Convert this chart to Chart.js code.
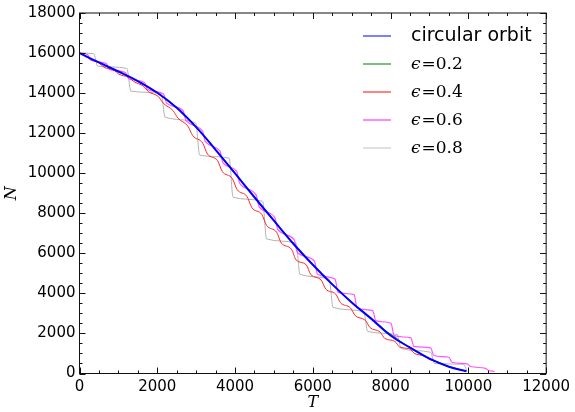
<!DOCTYPE html>
<html>
    <head>
        <meta charset="utf-8">
        <script src="https://cdn.jsdelivr.net/npm/chart.js"></script>
        <style>
            body { margin: 0; background: #ffffff; }
            #wrap { width: 575px; height: 412px; }
        </style>
    </head>
    <body>
        <div id="wrap"><canvas id="chart" width="575" height="412"></canvas></div>
        <script>
            // axis ticks
            const xTicks = [0, 2000, 4000, 6000, 8000, 10000, 12000];
            const yTicks = [0, 2000, 4000, 6000, 8000, 10000, 12000, 14000, 16000, 18000];
            const minorStep = 500;

            // series names
            const seriesNames = ['circular orbit', 'ϵ=0.2', 'ϵ=0.4', 'ϵ=0.6', 'ϵ=0.8'];

            // circular orbit
            const circT = [0, 500, 1000, 1500, 2000, 2500, 3000, 3500, 4000, 4500, 5000, 5500, 6000, 6500, 7000, 7500, 8000, 8500, 9000, 9500, 9950];
            const circN = [16000, 15530, 15080, 14600, 14020, 13270, 12300, 11170, 9990, 8800, 7630, 6480, 5430, 4450, 3550, 2740, 1900, 1290, 740, 340, 110];

            // eps = 0.2
            const e02T = [0, 150, 250, 550, 650, 950, 1050, 1350, 1450, 1750, 1850, 2150, 2250, 2550, 2650, 2950, 3050, 3350, 3450, 3750, 3850,
                4150, 4250, 4550, 4650, 4950, 5050, 5350, 5450, 5750, 5850, 6150, 6250, 6550, 6650, 6950, 7050, 7350, 7450, 7750, 7850,
                8150, 8250, 8550, 8650, 8950, 9050, 9350, 9450, 9750, 9850, 9950];
            const e02N = [16000, 15867, 15757, 15495, 15385, 15135, 15025, 14754, 14638, 14322, 14182, 13810, 13630, 13191, 12961, 12425, 12175, 11531, 11261, 10602, 10322,
                9657, 9371, 8706, 8426, 7769, 7491, 6848, 6572, 5976, 5724, 5156, 4920, 4378, 4162, 3652, 3448, 2999, 2805, 2361, 2171,
                1766, 1606, 1246, 1114, 797, 683, 468, 372, 217, 157, 110];

            // eps = 0.4
            const e04T = [0, 130, 250, 510, 630, 890, 1010, 1270, 1390, 1650, 1770, 2030, 2150, 2410, 2530, 2790, 2910, 3170, 3290, 3550, 3670,
                3930, 4050, 4310, 4430, 4690, 4810, 5070, 5190, 5450, 5570, 5830, 5950, 6210, 6330, 6590, 6710, 6970, 7090, 7350, 7470,
                7730, 7850, 8110, 8230, 8490, 8610, 8870, 8990, 9250, 9370, 9630, 9750, 9930];
            const e04N = [16000, 15880, 15720, 15490, 15290, 15145, 14945, 14783, 14583, 14336, 14076, 13825, 13505, 13115, 12755, 12341, 11881, 11500, 10960, 10630, 10090,
                9734, 9194, 8829, 8289, 7935, 7395, 7051, 6511, 6209, 5669, 5431, 4931, 4681, 4221, 3960, 3540, 3271, 2891, 2656, 2296,
                2072, 1752, 1606, 1326, 1225, 1005, 867, 707, 552, 432, 283, 203, 110];

            // eps = 0.6
            const e06T = [0, 210, 290, 690, 770, 1180, 1260, 1670, 1750, 2160, 2240, 2660, 2740, 3160, 3240, 3610, 3690, 4040, 4120, 4540, 4620,
                5020, 5100, 5520, 5600, 6040, 6120, 6570, 6650, 7060, 7140, 7540, 7620, 8010, 8090, 8520, 8600, 9030, 9110, 9500, 9580,
                9970, 10050, 10440, 10520, 10670];
            const e06N = [16000, 15920, 15640, 15480, 15180, 15030, 14720, 14530, 14180, 13950, 13500, 13130, 12620, 12120, 11560, 11120, 10520, 10100, 9500, 8920, 8320,
                7800, 7180, 6680, 6050, 5620, 4960, 4720, 4050, 3940, 3270, 3140, 2640, 2510, 1890, 1780, 1350, 1280, 900, 810, 560,
                480, 350, 260, 150, 110];

            // eps = 0.8
            const e08T = [0, 365, 465, 1220, 1320, 2100, 2200, 2990, 3090, 3850, 3950, 4710, 4810, 5570, 5670, 6420, 6520, 7310, 7410, 8170, 8270, 9030, 9130, 9880, 9960];
            const e08N = [16000, 15970, 15350, 15230, 14100, 13980, 12800, 12500, 10900, 10750, 8800, 8600, 6720, 6520, 4950, 4720, 3300, 3100, 2100, 1950, 1250, 1060, 500, 460, 130];

            function pts(ts, ns) {
                return ts.map((t, i) => ({ x: t, y: ns[i] }));
            }

            const lineColors = ['#0000ff', '#2e8b2e', '#ff2a2a', '#ff55ff', '#b4b4b4'];
            const legendColors = ['#7f7fff', '#3c9a3c', '#ff4040', '#ff88ff', '#cfcfcf'];
            const lineWidths = [2, 1, 1, 1.2, 1];

            const datasets = [
                { label: seriesNames[0], data: pts(circT, circN), tension: 0.4 },
                { label: seriesNames[1], data: pts(e02T, e02N), cubicInterpolationMode: 'monotone' },
                { label: seriesNames[2], data: pts(e04T, e04N), cubicInterpolationMode: 'monotone' },
                { label: seriesNames[3], data: pts(e06T, e06N), cubicInterpolationMode: 'monotone' },
                { label: seriesNames[4], data: pts(e08T, e08N), cubicInterpolationMode: 'monotone' }
            ].map((d, i) => Object.assign(d, {
                borderColor: lineColors[i],
                borderWidth: lineWidths[i],
                pointRadius: 0,
                fill: false
            }));

            // spines and inward ticks on all four sides
            const framePlugin = {
                id: 'frame',
                afterDatasetsDraw(chart) {
                    const { ctx, chartArea: a, scales: { x, y } } = chart;
                    ctx.save();
                    ctx.strokeStyle = '#111';
                    ctx.lineWidth = 1;
                    ctx.strokeRect(a.left, a.top, a.right - a.left, a.bottom - a.top);
                    ctx.beginPath();
                    for (let v = x.min; v <= x.max; v += minorStep) {
                        const px = Math.round(x.getPixelForValue(v)) + 0.5;
                        const len = xTicks.includes(v) ? 6 : 3;
                        ctx.moveTo(px, a.bottom); ctx.lineTo(px, a.bottom - len);
                        ctx.moveTo(px, a.top); ctx.lineTo(px, a.top + len);
                    }
                    for (let v = y.min; v <= y.max; v += minorStep) {
                        const py = Math.round(y.getPixelForValue(v)) + 0.5;
                        const len = yTicks.includes(v) ? 6 : 3;
                        ctx.moveTo(a.left, py); ctx.lineTo(a.left + len, py);
                        ctx.moveTo(a.right, py); ctx.lineTo(a.right - len, py);
                    }
                    ctx.stroke();
                    ctx.restore();
                }
            };

            // legend in the upper right, no frame
            const legendPlugin = {
                id: 'legendBox',
                afterDraw(chart) {
                    const { ctx } = chart;
                    const x0 = 363, x1 = 391, tx = 411;
                    const rows = [36, 64, 92, 120, 148];
                    ctx.save();
                    seriesNames.forEach((name, i) => {
                        const yy = rows[i];
                        ctx.strokeStyle = legendColors[i];
                        ctx.lineWidth = i === 0 ? 2 : (i === 3 ? 2 : 1.3);
                        ctx.beginPath();
                        ctx.moveTo(x0, yy); ctx.lineTo(x1, yy);
                        ctx.stroke();
                        ctx.fillStyle = '#000';
                        ctx.textBaseline = 'middle';
                        ctx.textAlign = 'left';
                        if (i === 0) {
                            ctx.font = '19px "DejaVu Sans"';
                            ctx.fillText(name, tx, yy);
                        } else {
                            ctx.font = 'italic 17px "DejaVu Serif"';
                            const eps = name.charAt(0);
                            ctx.fillText(eps, tx, yy + 1);
                            const w = ctx.measureText(eps).width;
                            ctx.font = '17px "DejaVu Serif"';
                            ctx.fillText(name.slice(1), tx + w + 1, yy + 1);
                        }
                    });
                    ctx.restore();
                }
            };

            const tickFont = { family: 'DejaVu Sans', size: 15 };

            new Chart(document.getElementById('chart'), {
                type: 'line',
                data: { datasets: datasets },
                options: {
                    responsive: false,
                    animation: false,
                    layout: { padding: { top: 12.5, right: 27.5, left: 0, bottom: 0 } },
                    plugins: {
                        legend: { display: false },
                        tooltip: { enabled: false }
                    },
                    scales: {
                        x: {
                            type: 'linear',
                            min: xTicks[0],
                            max: xTicks[xTicks.length - 1],
                            afterFit: s => { s.height = 38.5; },
                            grid: { display: false, drawTicks: false },
                            border: { display: false },
                            ticks: {
                                stepSize: 2000,
                                font: tickFont,
                                color: '#000',
                                padding: 5,
                                maxRotation: 0,
                                callback: v => String(v)
                            },
                            title: {
                                display: true,
                                text: 'T',
                                color: '#000',
                                font: { family: 'DejaVu Serif', style: 'italic', size: 16 },
                                padding: 0
                            }
                        },
                        y: {
                            type: 'linear',
                            min: yTicks[0],
                            max: yTicks[yTicks.length - 1],
                            afterFit: s => { s.width = 79.5; },
                            grid: { display: false, drawTicks: false },
                            border: { display: false },
                            ticks: {
                                stepSize: 2000,
                                font: tickFont,
                                color: '#000',
                                padding: 4,
                                callback: v => String(v)
                            },
                            title: {
                                display: true,
                                text: 'N',
                                color: '#000',
                                font: { family: 'DejaVu Serif', style: 'italic', size: 16 },
                                padding: { top: 2, bottom: 0 }
                            }
                        }
                    }
                },
                plugins: [framePlugin, legendPlugin]
            });
        </script>
    </body>
</html>
